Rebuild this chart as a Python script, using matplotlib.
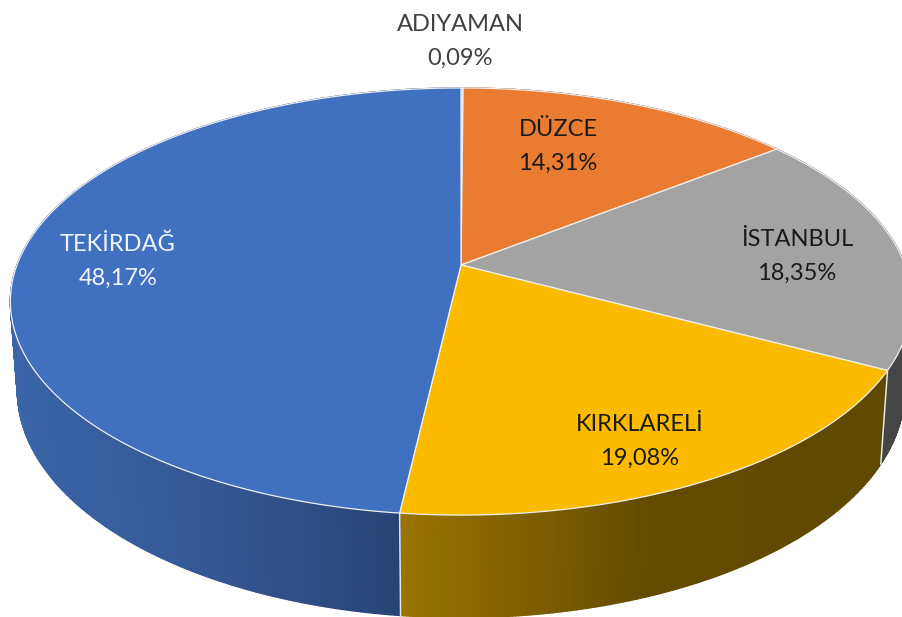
import numpy as np
import matplotlib
matplotlib.use('Agg')
import matplotlib.pyplot as plt

# Slices, clockwise from the top
names = ['ADIYAMAN', 'DÜZCE', 'İSTANBUL', 'KIRKLARELİ', 'TEKİRDAĞ']
shares = [0.09, 14.31, 18.35, 19.08, 48.17]
top_colors = ['#9dc3e6', '#e97c30', '#a3a3a3', '#fdbb00', '#4070c0']
text_colors = ['#404040', '#1a1a1a', '#1a1a1a', '#1a1a1a', '#f2f5fb']
label_xy = [(460, 40), (558, 145), (797, 255), (640, 440), (118, 260)]

# Side wall shading, stops along x
wall_x = [0, 250, 400, 401, 650, 902]
wall_shades = {
    'ADIYAMAN': ['#5b7a99'] * 6,
    'DÜZCE': ['#8a4a1c'] * 6,
    'İSTANBUL': ['#454545'] * 6,
    'KIRKLARELİ': ['#9a7400', '#9a7400', '#9a7400', '#9a7400', '#634b00', '#5f4800'],
    'TEKİRDAĞ': ['#3b66aa', '#33538e', '#274376', '#274376', '#274376', '#274376'],
}

# Perspective of the tilted disc, in picture pixels
CX = 461
RX_TOP, RX_BOT = 444, 437
A_TOP, B_TOP = -162, 265
A_BOT, B_BOT = -160, 352
K = 0.171


def rim(deg, rx, a, b):
    t = np.radians(deg)
    u, v = np.sin(t), np.cos(t)
    d = 1 + K * v
    return CX + rx * u / d, (a * v + b) / d


def to_rgb(c):
    return np.array(matplotlib.colors.to_rgb(c))


fig = plt.figure(figsize=(9.02, 6.17), dpi=100)
ax = fig.add_axes([0, 0, 1, 1])
ax.set_xlim(0, 902)
ax.set_ylim(617, 0)
ax.axis('off')

edges = np.cumsum([0] + shares) / sum(shares) * 360

# walls first, the top face hides the back part
for i, name in enumerate(names):
    rgb = np.array([to_rgb(c) for c in wall_shades[name]])
    steps = np.linspace(edges[i], edges[i + 1], max(int(edges[i + 1] - edges[i]) * 3, 2))
    for a0, a1 in zip(steps[:-1], steps[1:]):
        x0, y0 = rim(a0, RX_TOP, A_TOP, B_TOP)
        x1, y1 = rim(a1, RX_TOP, A_TOP, B_TOP)
        x2, y2 = rim(a1, RX_BOT, A_BOT, B_BOT)
        x3, y3 = rim(a0, RX_BOT, A_BOT, B_BOT)
        xm = (x0 + x1) / 2
        col = [np.interp(xm, wall_x, rgb[:, c]) for c in range(3)]
        ax.fill([x0, x1, x2, x3], [y0, y1, y2, y3], color=col, lw=1.0, zorder=1)

# light seams on the front of the wall
for deg in edges:
    if 90 < deg % 360 < 270:
        x0, y0 = rim(deg, RX_TOP, A_TOP, B_TOP)
        x1, y1 = rim(deg, RX_BOT, A_BOT, B_BOT)
        ax.plot([x0, x1], [y0, y1], color='#e8e8e8', lw=1.1, zorder=2)

# top face
for i, name in enumerate(names):
    arc = np.linspace(edges[i], edges[i + 1], max(int(edges[i + 1] - edges[i]) * 2, 2))
    xs, ys = rim(arc, RX_TOP, A_TOP, B_TOP)
    ax.fill(np.r_[CX, xs], np.r_[B_TOP, ys], facecolor=top_colors[i],
            edgecolor='#f0f0f0', lw=0.9, zorder=3)

# labels
plt.rcParams['font.family'] = ['Lato', 'DejaVu Sans']
for name, share, col, (lx, ly) in zip(names, shares, text_colors, label_xy):
    txt = f'{share:.2f}'.replace('.', ',') + '%'
    ax.text(lx, ly + 1, name + '\n' + txt, color=col, fontsize=17, ha='center',
            va='center', linespacing=1.75, zorder=5)

fig.savefig('out.png', dpi=100)
